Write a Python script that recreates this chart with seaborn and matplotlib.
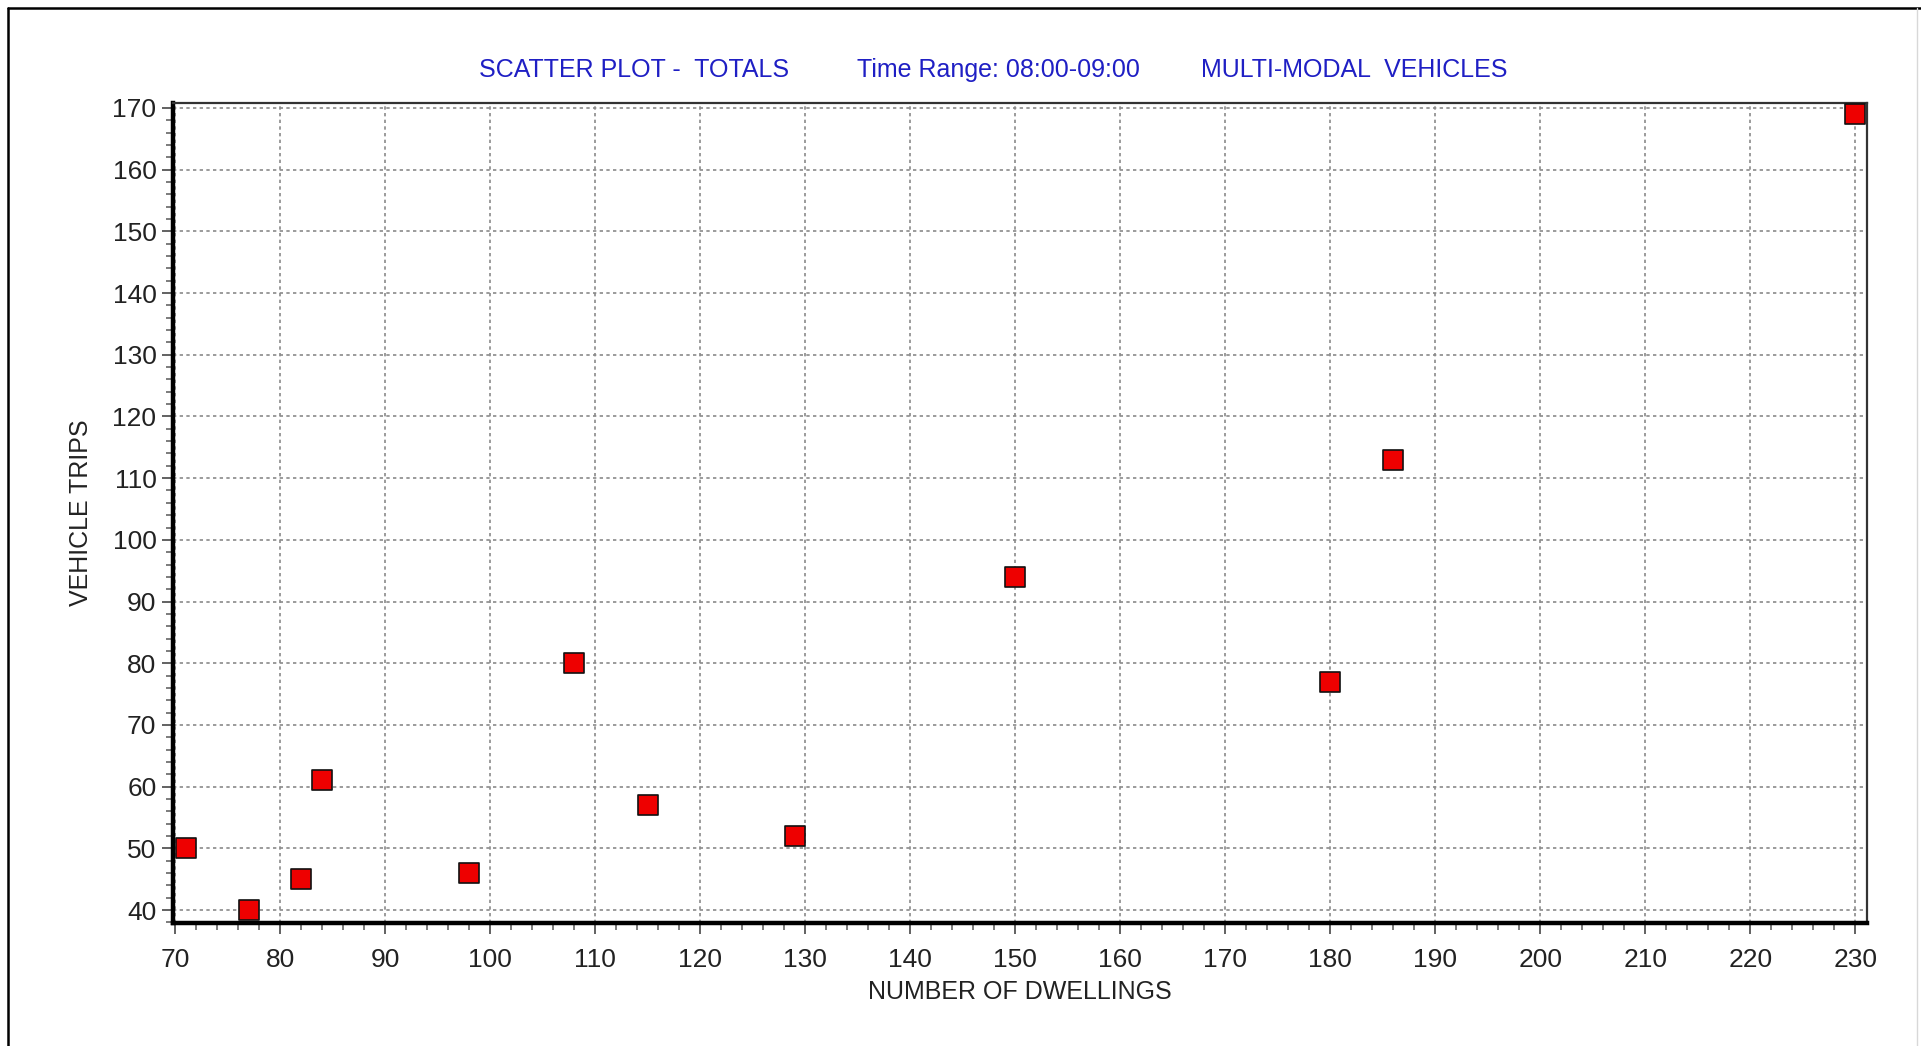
import matplotlib

matplotlib.use("Agg")
import matplotlib.pyplot as plt
import pandas as pd
import seaborn as sns
from matplotlib.lines import Line2D
from matplotlib.ticker import MultipleLocator

dwellings = [71, 77, 82, 84, 98, 108, 115, 129, 150, 180, 186, 230]
vehicle_trips = [50, 40, 45, 61, 46, 80, 57, 52, 94, 77, 113, 169]

title_parts = ["SCATTER PLOT -  TOTALS", "Time Range: 08:00-09:00", "MULTI-MODAL  VEHICLES"]
x_label = "NUMBER OF DWELLINGS"
y_label = "VEHICLE TRIPS"

TITLE_BLUE = "#1f1fc4"
GRID_GREY = "#8a8a8a"

sns.set_theme(style="white")
plt.rcParams["font.family"] = ["Liberation Sans", "DejaVu Sans"]

data = pd.DataFrame({"dwellings": dwellings, "trips": vehicle_trips})

fig = plt.figure(figsize=(19.21, 10.46), dpi=100)
ax = fig.add_axes([0.0901, 0.1176, 0.9719 - 0.0901, 0.9015 - 0.1176])

ax.grid(True, which="major", color=GRID_GREY, linestyle=(0, (2, 2)), linewidth=1.2)
ax.set_axisbelow(True)

sns.scatterplot(
    data=data,
    x="dwellings",
    y="trips",
    marker="s",
    s=210,
    color="#ee0000",
    edgecolor="#111111",
    linewidth=1.2,
    ax=ax,
    zorder=3,
    clip_on=False,
)

ax.set_xlim(69.8, 231.1)
ax.set_ylim(37.9, 170.8)
ax.xaxis.set_major_locator(MultipleLocator(10))
ax.xaxis.set_minor_locator(MultipleLocator(2))
ax.yaxis.set_major_locator(MultipleLocator(10))
ax.yaxis.set_minor_locator(MultipleLocator(2))

ax.tick_params(axis="both", which="major", direction="out", length=8, width=1.3,
               color="#555555", labelsize=19, labelcolor="#222222", pad=4)
ax.tick_params(axis="x", which="major", pad=10)
ax.tick_params(axis="both", which="minor", direction="out", length=5, width=1.2,
               color="#666666")
ax.tick_params(axis="x", which="both", bottom=True)
ax.tick_params(axis="y", which="both", left=True)

for side in ["left", "bottom"]:
    ax.spines[side].set_linewidth(3.2)
    ax.spines[side].set_color("#000000")
for side in ["top", "right"]:
    ax.spines[side].set_linewidth(1.6)
    ax.spines[side].set_color("#333333")

ax.set_xlabel(x_label, fontsize=18, color="#222222", labelpad=6)
ax.set_ylabel(y_label, fontsize=18, color="#222222", labelpad=14)

title_x = [634 / 1921, 998 / 1921, 1354 / 1921]
for part, xpos in zip(title_parts, title_x):
    fig.text(xpos, 1 - 70 / 1046, part, ha="center", va="center",
             fontsize=18, color=TITLE_BLUE)

# outer frame like the original window capture
fig.add_artist(Line2D([8 / 1921, 8 / 1921], [0, 1 - 8 / 1046],
                      transform=fig.transFigure, color="#000000", linewidth=1.8))
fig.add_artist(Line2D([8 / 1921, 1], [1 - 8 / 1046, 1 - 8 / 1046],
                      transform=fig.transFigure, color="#000000", linewidth=1.8))
fig.add_artist(Line2D([1917 / 1921, 1917 / 1921], [0, 1 - 8 / 1046],
                      transform=fig.transFigure, color="#d8d8d8", linewidth=1.0))

fig.savefig("out.png", dpi=100)
plt.close(fig)
